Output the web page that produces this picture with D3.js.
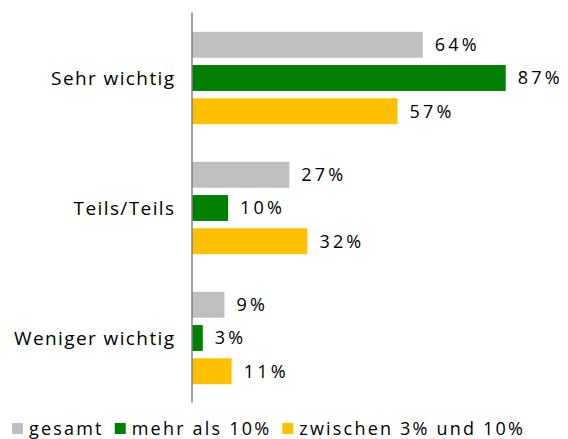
<!DOCTYPE html>
<html><head><meta charset="utf-8">
<script src="https://cdn.jsdelivr.net/npm/d3@7"></script>
<style>
body{margin:0;background:#fff;}
svg{display:block;font-family:"Open Sans",sans-serif;}
</style></head>
<body><svg id="c" width="568" height="439"></svg>
<script>
const categories = ["Sehr wichtig", "Teils/Teils", "Weniger wichtig"];
const seriesNames = ["gesamt", "mehr als 10%", "zwischen 3% und 10%"];
const gesamt = [64, 27, 9];
const mehrAls10 = [87, 10, 3];
const zwischen3und10 = [57, 32, 11];
const seriesValues = [gesamt, mehrAls10, zwischen3und10];
const colors = ["#BFBFBF", "#008000", "#FFC000"];

const svg = d3.select("#c");
const x = d3.scaleLinear().domain([0, 100]).range([192, 552.6]);
const y0 = d3.scaleBand().domain(categories).range([12, 402]).padding(0);
const y1 = d3.scaleBand().domain(seriesNames).range([0, 99]).paddingInner(0.22).paddingOuter(0.1);
const groupOffset = 16.5;

const groups = svg.selectAll("g.grp").data(categories).join("g")
  .attr("class", "grp")
  .attr("transform", d => `translate(0,${y0(d) + groupOffset})`);

groups.each(function(cat, ci) {
  const g = d3.select(this);
  seriesNames.forEach((s, si) => {
    const v = seriesValues[si][ci];
    g.append("rect")
      .attr("x", x(0))
      .attr("y", y1(s))
      .attr("width", x(v) - x(0))
      .attr("height", y1.bandwidth())
      .attr("fill", colors[si]);
    g.append("text")
      .attr("x", x(v) + 12)
      .attr("y", y1(s) + y1.bandwidth() / 2)
      .attr("dy", "0.36em")
      .attr("font-size", 18)
      .attr("letter-spacing", 3.2)
      .attr("fill", "#000")
      .text(v + "%");
  });
});

// category axis
const yAxis = d3.axisLeft(y0).tickSize(0).tickPadding(16);
const ax = svg.append("g").attr("transform", `translate(${x(0) - 0.5},0)`).call(yAxis);
ax.select(".domain").attr("stroke", "#808080").attr("stroke-width", 1.5);
ax.selectAll(".tick text")
  .attr("font-size", 19)
  .attr("font-family", "Open Sans, sans-serif")
  .attr("letter-spacing", 1.4)
  .attr("fill", "#000")
  .attr("dy", "0.42em");

// legend
const leg = svg.append("g");
let lx = 12;
seriesNames.forEach((s, i) => {
  leg.append("rect").attr("x", lx).attr("y", 423).attr("width", 11).attr("height", 11).attr("fill", colors[i]);
  const t = leg.append("text").attr("x", lx + 17).attr("y", 434.5)
    .attr("font-size", 18).attr("letter-spacing", 2.2).attr("fill", "#000").text(s);
  lx = lx + 17 + t.node().getComputedTextLength() + 11;
});
</script></body></html>
